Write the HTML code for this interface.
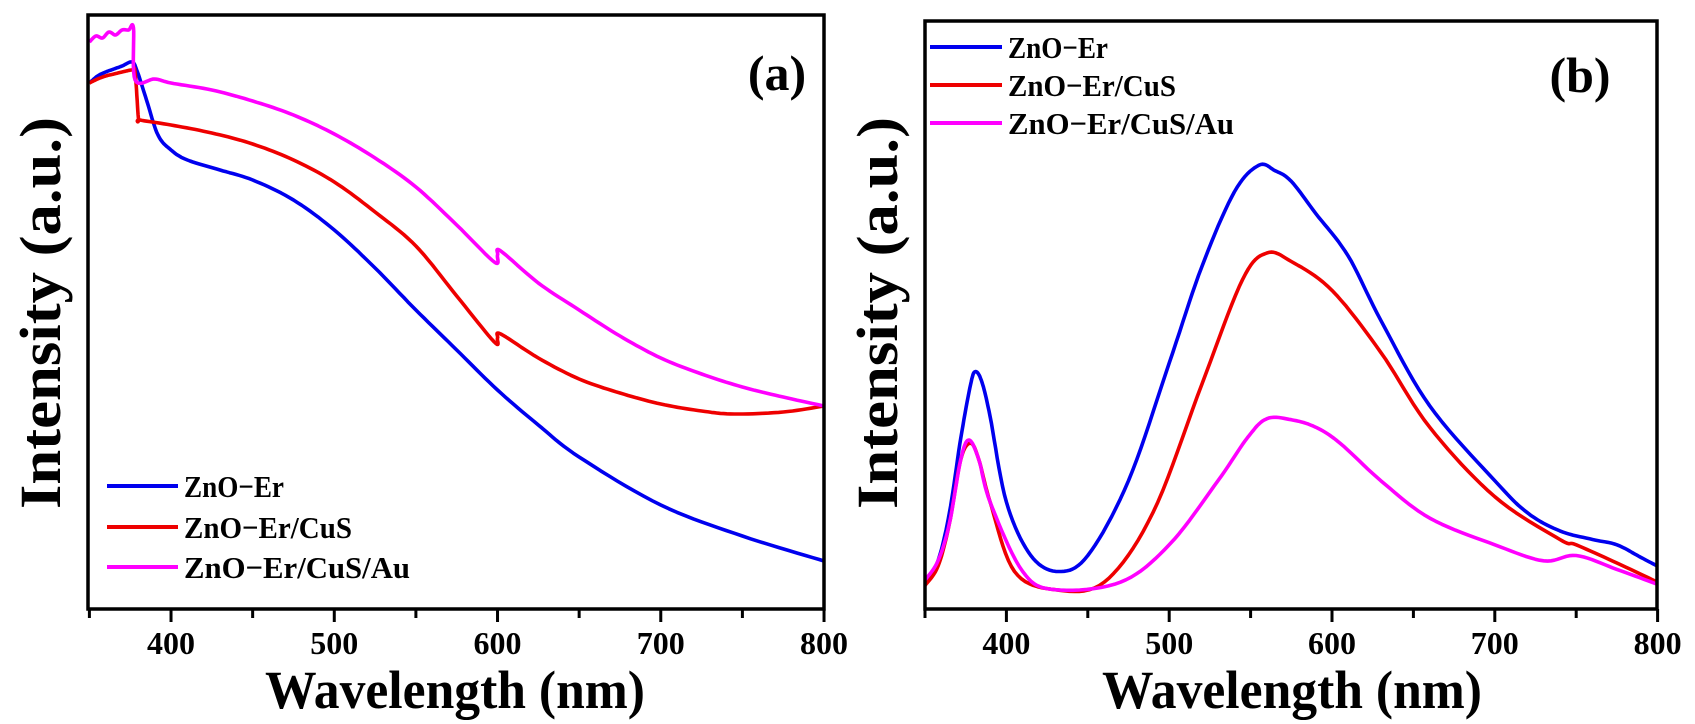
<!DOCTYPE html>
<html><head><meta charset="utf-8"><style>
html,body{margin:0;padding:0;background:#fff;}
svg{display:block;font-family:"Liberation Serif",serif;font-weight:bold;}
</style></head><body>
<svg id="s" width="1695" height="724" viewBox="0 0 1695 724" xmlns="http://www.w3.org/2000/svg">
<g id="curves" fill="none" stroke-width="3.6" stroke-linejoin="round"></g>
<rect x="88" y="15" width="736" height="594" fill="none" stroke="#000" stroke-width="3.5"/>
<rect x="925" y="21" width="732" height="588" fill="none" stroke="#000" stroke-width="3.5"/>
<g id="ticks" stroke="#000" stroke-width="3"></g>
<g font-size="32" text-anchor="middle" id="tl"></g>
<text x="455" y="708" font-size="54" text-anchor="middle" textLength="380" lengthAdjust="spacingAndGlyphs">Wavelength (nm)</text>
<text x="1292" y="708" font-size="54" text-anchor="middle" textLength="380" lengthAdjust="spacingAndGlyphs">Wavelength (nm)</text>
<text transform="translate(60,313) rotate(-90)" font-size="58" text-anchor="middle" textLength="392" lengthAdjust="spacingAndGlyphs">Intensity (a.u.)</text>
<text transform="translate(897,313) rotate(-90)" font-size="58" text-anchor="middle" textLength="392" lengthAdjust="spacingAndGlyphs">Intensity (a.u.)</text>
<text x="777" y="90" font-size="50" text-anchor="middle">(a)</text>
<text x="1580" y="92" font-size="50" text-anchor="middle">(b)</text>
<g stroke-width="4">
<line x1="107" y1="486" x2="178" y2="486" stroke="#0000ee"/>
<line x1="107" y1="527" x2="178" y2="527" stroke="#ee0000"/>
<line x1="107" y1="567" x2="178" y2="567" stroke="#ff00ff"/>
<line x1="930" y1="47" x2="1002" y2="47" stroke="#0000ee"/>
<line x1="930" y1="85" x2="1002" y2="85" stroke="#ee0000"/>
<line x1="930" y1="123" x2="1002" y2="123" stroke="#ff00ff"/>
</g>
<g font-size="31">
<text x="184" y="497" textLength="100" lengthAdjust="spacingAndGlyphs">ZnO−Er</text>
<text x="184" y="538" textLength="168" lengthAdjust="spacingAndGlyphs">ZnO−Er/CuS</text>
<text x="184" y="578" textLength="226" lengthAdjust="spacingAndGlyphs">ZnO−Er/CuS/Au</text>
<text x="1008" y="58" textLength="100" lengthAdjust="spacingAndGlyphs">ZnO−Er</text>
<text x="1008" y="96" textLength="168" lengthAdjust="spacingAndGlyphs">ZnO−Er/CuS</text>
<text x="1008" y="134" textLength="226" lengthAdjust="spacingAndGlyphs">ZnO−Er/CuS/Au</text>
</g>
</svg>
<script>
var NS="http://www.w3.org/2000/svg";
function xa(l){return 89.4+(l-350)*1.6325;}
function xb(l){return 925+(l-350)*1.628;}
function cy(yd){return 21+(yd-20)*1.069;}
function path(pts,xf,yf,col){
 var d="";for(var i=0;i<pts.length;i++){d+=(i?"L":"M")+xf(pts[i][0]).toFixed(1)+","+yf(pts[i][1]).toFixed(1);}
 var p=document.createElementNS(NS,"path");p.setAttribute("d",d);p.setAttribute("stroke",col);
 document.getElementById("curves").appendChild(p);}
function id(v){return v;}
function smooth(pts){var out=[];for(var i=0;i<pts.length-1;i++){var p0=pts[Math.max(0,i-1)],p1=pts[i],p2=pts[i+1],p3=pts[Math.min(pts.length-1,i+2)];
 for(var t=0;t<1;t+=0.1){var t2=t*t,t3=t2*t;var f=function(a,b,c,d){return 0.5*((2*b)+(-a+c)*t+(2*a-5*b+4*c-d)*t2+(-a+3*b-3*c+d)*t3);};
 out.push([f(p0[0],p1[0],p2[0],p3[0]),f(p0[1],p1[1],p2[1],p3[1])]);}}out.push(pts[pts.length-1]);return out;}
var ba=[[350,83],[355,76],[360,72],[365,69],[370,66],[376,62],[379,70],[385,100],[392,135],[400,150],[410,160],[430,170],[450,180],[475,200],[500,230],[525,268],[550,310],[575,350],[600,390],[625,425],[650,457],[700,505],[750,536],[800,561]];
var ra=[[350,83],[355,79],[360,76],[365,74],[370,72],[376,70],[378,72],[380,118],[381,120],[400,125],[425,133],[450,144],[475,160],[500,182],[525,212],[550,246],[575,296],[598,342],[600,338],[602,334],[625,358],[650,379],[675,393],[700,404],[725,411],[745,414],[775,412],[800,406]];
var ma=[[350,42],[354,36],[358,38],[362,32],[366,35],[370,30],[374,30],[377,28],[378,80],[390,79],[400,83],[425,90],[450,101],[475,115],[500,134],[525,158],[550,187],[575,225],[598,262],[600,255],[602,251],[625,283],[650,310],[675,336],[700,358],[725,374],[750,387],[775,397],[800,406]];
path(smooth(ba),xa,id,"#0000ee");path(smooth(ra),xa,id,"#ee0000");path(smooth(ma),xa,id,"#ff00ff");
var bb=[[350,548],[358,525],[365,480],[372,410],[378,360],[381,348],[385,358],[390,390],[400,470],[415,520],[432,535],[450,520],[475,450],[500,340],[520,250],[540,180],[555,155],[565,160],[575,170],[590,200],[610,240],[630,300],[660,380],[700,450],[720,480],[740,497],[760,505],[775,510],[790,522],[800,530]];
var rb=[[350,548],[358,530],[365,490],[372,430],[378,415],[383,430],[390,470],[405,535],[430,552],[460,545],[490,480],[520,360],[545,262],[560,237],[575,245],[600,272],[630,330],[660,400],[700,465],[740,505],[750,510],[775,527],[800,545]];
var mb=[[350,543],[358,525],[365,490],[372,430],[377,412],[383,430],[390,470],[410,535],[430,552],[470,545],[500,510],[530,450],[548,410],[560,392],[575,393],[590,400],[605,415],[630,450],[660,485],[700,510],[730,525],[750,520],[775,533],[800,547]];
path(smooth(bb),xb,cy,"#0000ee");path(smooth(rb),xb,cy,"#ee0000");path(smooth(mb),xb,cy,"#ff00ff");
var tk=document.getElementById("ticks"),tl=document.getElementById("tl");
for(var l=350;l<=800;l+=50){[xa,xb].forEach(function(f){var x=f(l);var ln=document.createElementNS(NS,"line");
 ln.setAttribute("x1",x);ln.setAttribute("x2",x);ln.setAttribute("y1",609);ln.setAttribute("y2",l%100==0?622:618);tk.appendChild(ln);
 if(l%100==0){var t=document.createElementNS(NS,"text");t.setAttribute("x",x);t.setAttribute("y",654);t.textContent=l;tl.appendChild(t);}});}
</script>
</body></html>
